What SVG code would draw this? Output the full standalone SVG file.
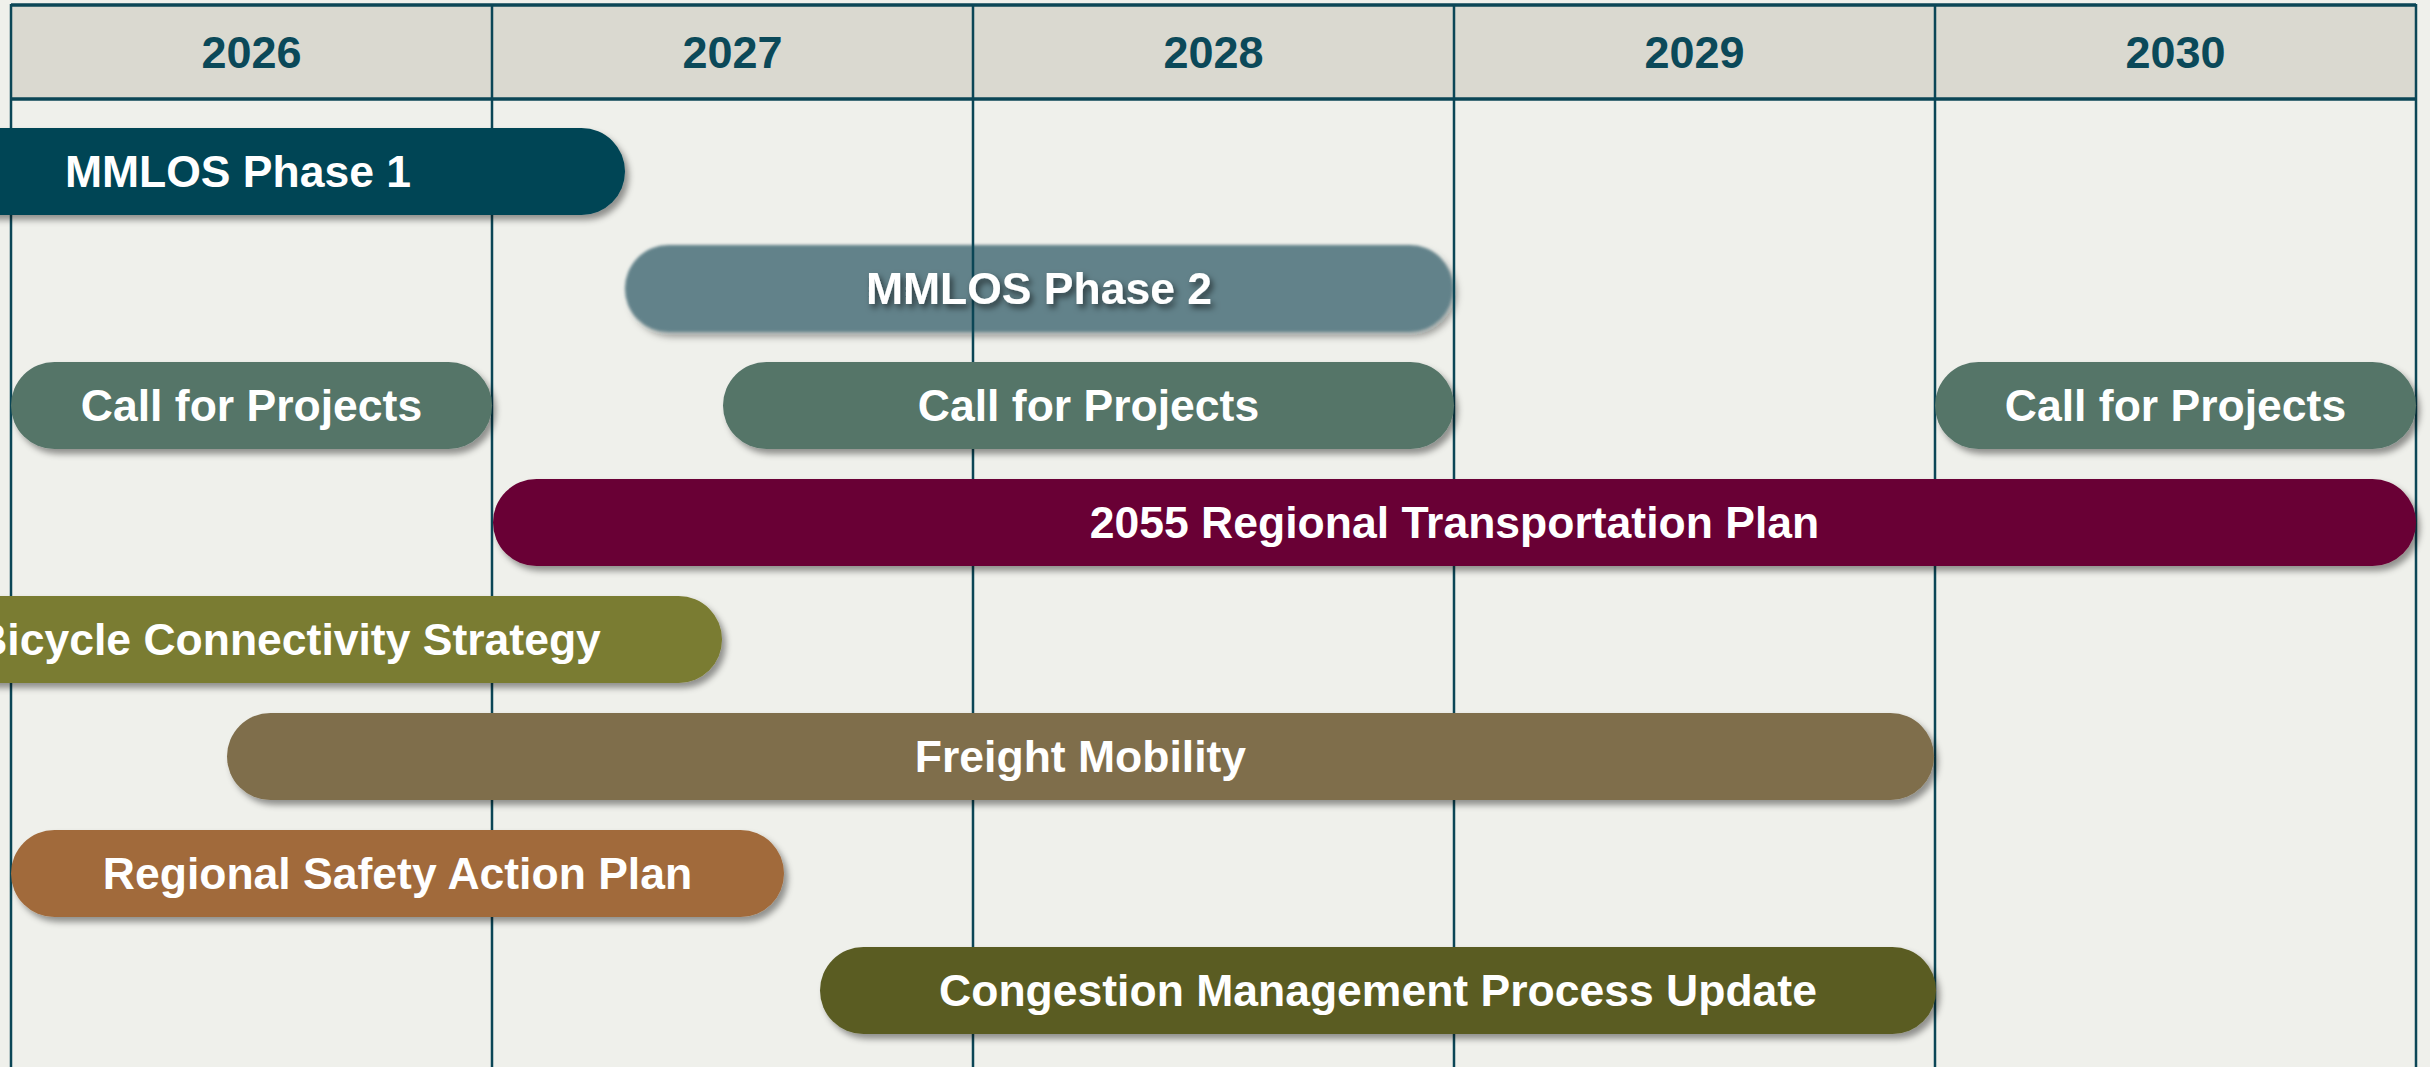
<svg xmlns="http://www.w3.org/2000/svg" width="2430" height="1067" viewBox="0 0 2430 1067">
<style>
.yr{font-family:"Liberation Sans",Arial,sans-serif;font-weight:bold;font-size:45px;fill:#0B4959;text-anchor:middle}
.lbl{font-family:"Liberation Sans",Arial,sans-serif;font-weight:bold;font-size:44.5px;fill:#FFFFFF;text-anchor:middle}
.vline{stroke:#0B4656;stroke-width:2.5}
.hline{stroke:#0B4656;stroke-width:3.5}
</style>
<defs>
<filter id="sh" x="-5%" y="-30%" width="110%" height="170%">
<feDropShadow dx="4" dy="5" stdDeviation="3" flood-color="#000" flood-opacity="0.4"/>
</filter>
<filter id="soft" x="-5%" y="-30%" width="110%" height="170%">
<feGaussianBlur in="SourceGraphic" stdDeviation="1.6" result="b"/>
<feDropShadow in="b" dx="4" dy="5" stdDeviation="3" flood-color="#000" flood-opacity="0.35"/>
</filter>
<filter id="tsh" x="-10%" y="-40%" width="120%" height="180%">
<feDropShadow dx="3" dy="4" stdDeviation="3" flood-color="#000" flood-opacity="0.55"/>
</filter>
</defs>
<rect x="0" y="0" width="2430" height="1067" fill="#EFF0EB"/>
<g id="grid">
<rect x="11" y="5" width="2405" height="94" fill="#DAD9D0"/>
<rect x="11" y="99" width="2405" height="968" fill="#EFF0EB"/>
</g>
<g id="mmlos2">
<rect x="625" y="245" width="828" height="87" rx="43.5" fill="#62828A" filter="url(#soft)"/>
</g>
<g id="gridlines">
<line class="hline" x1="11" y1="5" x2="2416" y2="5"/>
<line class="hline" x1="11" y1="99" x2="2416" y2="99"/>
<line class="vline" x1="11" y1="4" x2="11" y2="1067"/>
<line class="vline" x1="492" y1="4" x2="492" y2="1067"/>
<line class="vline" x1="973" y1="4" x2="973" y2="1067"/>
<line class="vline" x1="1454" y1="4" x2="1454" y2="1067"/>
<line class="vline" x1="1935" y1="4" x2="1935" y2="1067"/>
<line class="vline" x1="2416" y1="4" x2="2416" y2="1067"/>
</g>
<g id="years">
<text class="yr" x="251.5" y="68">2026</text>
<text class="yr" x="732.5" y="68">2027</text>
<text class="yr" x="1213.5" y="68">2028</text>
<text class="yr" x="1694.5" y="68">2029</text>
<text class="yr" x="2175.5" y="68">2030</text>
</g>
<g id="mmlos2-label">
<text class="lbl" x="1039" y="304" filter="url(#tsh)">MMLOS Phase 2</text>
</g>
<g id="mmlos1">
<rect x="-150" y="128" width="775" height="87" rx="43.5" fill="#044555" filter="url(#sh)"/>
<text class="lbl" x="238" y="187">MMLOS Phase 1</text>
</g>
<g id="cfp1">
<rect x="11" y="362" width="481" height="87" rx="43.5" fill="#557468" filter="url(#sh)"/>
<text class="lbl" x="251.5" y="421">Call for Projects</text>
</g>
<g id="cfp2">
<rect x="723" y="362" width="731" height="87" rx="43.5" fill="#557468" filter="url(#sh)"/>
<text class="lbl" x="1088.5" y="421">Call for Projects</text>
</g>
<g id="cfp3">
<rect x="1935" y="362" width="481" height="87" rx="43.5" fill="#557468" filter="url(#sh)"/>
<text class="lbl" x="2175.5" y="421">Call for Projects</text>
</g>
<g id="rtp">
<rect x="493" y="479" width="1923" height="87" rx="43.5" fill="#690034" filter="url(#sh)"/>
<text class="lbl" x="1454.5" y="538">2055 Regional Transportation Plan</text>
</g>
<g id="bicycle">
<rect x="-140" y="596" width="862" height="87" rx="43.5" fill="#7A7B31" filter="url(#sh)"/>
<text class="lbl" x="288" y="655">Bicycle Connectivity Strategy</text>
</g>
<g id="freight">
<rect x="227" y="713" width="1707" height="87" rx="43.5" fill="#7F6E4C" filter="url(#sh)"/>
<text class="lbl" x="1080.5" y="772">Freight Mobility</text>
</g>
<g id="safety">
<rect x="11" y="830" width="773" height="87" rx="43.5" fill="#A16A3B" filter="url(#sh)"/>
<text class="lbl" x="397.5" y="889">Regional Safety Action Plan</text>
</g>
<g id="congestion">
<rect x="820" y="947" width="1116" height="87" rx="43.5" fill="#5A5C24" filter="url(#sh)"/>
<text class="lbl" x="1378" y="1006">Congestion Management Process Update</text>
</g>
<g id="connectors"/>
</svg>
